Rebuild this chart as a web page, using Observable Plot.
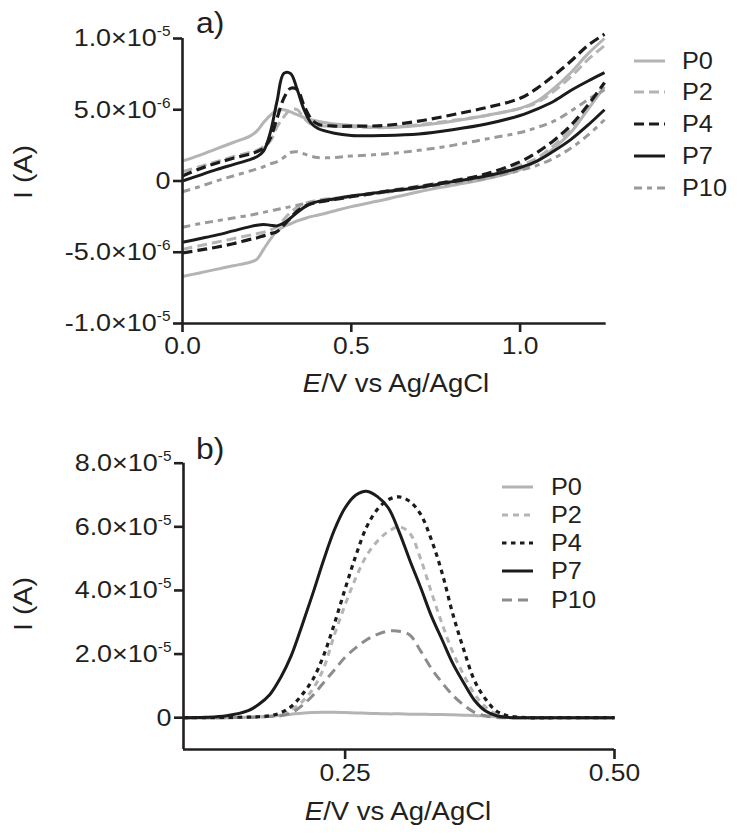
<!DOCTYPE html>
<html><head><meta charset="utf-8">
<script src="https://cdn.jsdelivr.net/npm/d3@7"></script>
<script src="https://cdn.jsdelivr.net/npm/@observablehq/plot@0.6"></script>
<style>
body{margin:0;background:#fff;}
#root{position:relative;width:737px;height:835px;font-family:"Liberation Sans",Arial,sans-serif;color:#231f20;overflow:hidden;}
#root > svg{position:absolute;left:0;}
</style></head><body><div id="root"></div>
<script>
// ---------- Panel a: cyclic voltammograms (current in 1e-6 A) ----------
const cvE = [0,0.05,0.1,0.15,0.2,0.22,0.24,0.26,0.28,0.30,0.32,0.34,0.36,0.38,0.40,0.45,0.5,0.6,0.7,0.8,0.9,1.0,1.05,1.1,1.15,1.2,1.25];
const cvP0Fwd  = [1.4,1.8,2.25,2.7,3.15,3.5,4.1,4.6,4.95,5.0,4.85,4.65,4.45,4.3,4.2,4.0,3.9,3.75,3.9,4.2,4.6,5.1,5.6,6.5,7.6,8.9,10.0];
const cvP2Fwd  = [0.65,1.0,1.35,1.7,2.0,2.15,2.4,2.8,3.8,4.5,5.0,5.0,4.4,4.0,3.9,3.85,3.8,3.75,3.95,4.25,4.6,5.1,5.5,6.3,7.3,8.5,9.5];
const cvP4Fwd  = [0.35,0.85,1.25,1.6,1.9,2.05,2.3,3.0,4.4,5.8,6.5,6.4,5.3,4.4,4.0,3.85,3.85,3.9,4.2,4.65,5.15,5.8,6.5,7.4,8.4,9.5,10.3];
const cvP7Fwd  = [0.0,0.4,0.8,1.15,1.5,1.7,2.1,3.4,5.6,7.55,7.55,6.4,5.0,4.1,3.7,3.35,3.2,3.2,3.3,3.6,4.0,4.6,5.05,5.6,6.35,7.0,7.6];
const cvP10Fwd = [-0.75,-0.4,0.0,0.35,0.7,0.85,1.0,1.2,1.35,1.65,2.0,2.05,1.9,1.75,1.65,1.65,1.75,1.9,2.15,2.5,2.95,3.4,3.75,4.2,4.9,5.7,6.4];
const cvP0Rev  = [-6.7,-6.45,-6.2,-5.95,-5.7,-5.5,-4.8,-4.1,-3.5,-3.2,-3.0,-2.8,-2.65,-2.5,-2.4,-2.1,-1.8,-1.3,-0.75,-0.3,0.15,0.8,1.4,2.3,3.4,5.0,6.6];
const cvP2Rev  = [-4.8,-4.55,-4.3,-4.05,-3.8,-3.7,-3.6,-3.45,-3.2,-2.7,-2.2,-1.85,-1.6,-1.45,-1.35,-1.2,-1.05,-0.7,-0.35,0.0,0.4,1.1,1.6,2.5,3.6,5.1,6.9];
const cvP4Rev  = [-5.05,-4.85,-4.65,-4.4,-4.1,-4.0,-3.85,-3.7,-3.55,-3.1,-2.6,-2.1,-1.8,-1.6,-1.5,-1.3,-1.1,-0.75,-0.4,0.0,0.5,1.35,2.0,2.85,3.9,5.3,6.9];
const cvP7Rev  = [-4.3,-4.05,-3.8,-3.5,-3.2,-3.1,-3.05,-3.1,-3.15,-2.95,-2.6,-2.2,-1.85,-1.6,-1.45,-1.25,-1.05,-0.75,-0.45,-0.05,0.35,0.95,1.4,2.1,2.9,3.9,5.0];
const cvP10Rev = [-3.25,-3.0,-2.8,-2.6,-2.4,-2.3,-2.2,-2.1,-2.0,-1.9,-1.8,-1.7,-1.6,-1.5,-1.45,-1.3,-1.1,-0.8,-0.5,-0.15,0.2,0.75,1.1,1.6,2.3,3.2,4.3];

// ---------- Panel b: differential pulse peaks (current in 1e-5 A) ----------
const dpE   = [0.10,0.12,0.14,0.16,0.17,0.18,0.19,0.20,0.21,0.22,0.23,0.24,0.25,0.26,0.27,0.28,0.29,0.30,0.31,0.32,0.33,0.34,0.35,0.36,0.37,0.38,0.39,0.40,0.42,0.45,0.50];
const dpP0  = [0,0,0,0.01,0.03,0.05,0.08,0.11,0.14,0.16,0.17,0.17,0.16,0.15,0.14,0.13,0.12,0.12,0.11,0.11,0.10,0.10,0.09,0.08,0.07,0.05,0.03,0.01,0,0,0];
const dpP2  = [0,0,0,0.01,0.02,0.04,0.09,0.25,0.5,0.9,1.55,2.6,3.55,4.4,5.1,5.55,5.85,6.0,5.8,5.0,3.95,2.95,2.05,1.35,0.75,0.35,0.12,0.03,0,0,0];
const dpP4  = [0,0,0.01,0.02,0.03,0.06,0.15,0.35,0.72,1.2,1.95,2.95,4.05,5.1,6.0,6.55,6.85,6.94,6.8,6.4,5.6,4.55,3.25,2.15,1.17,0.6,0.22,0.07,0,0,0];
const dpP7  = [0,0.01,0.06,0.22,0.42,0.72,1.25,1.95,2.9,3.9,4.95,5.9,6.6,7.0,7.12,6.95,6.6,5.85,4.95,4.1,3.2,2.45,1.7,1.1,0.55,0.22,0.07,0.01,0,0,0];
const dpP10 = [0,0,0,0.01,0.02,0.04,0.06,0.15,0.38,0.7,1.1,1.5,1.9,2.2,2.45,2.62,2.72,2.72,2.6,2.1,1.55,1.1,0.7,0.4,0.17,0.06,0.01,0,0,0,0];

const seriesNames = ["P0","P2","P4","P7","P10"];
const aTicksX = [0, 0.5, 1.0];
const aTicksY = [-1e-5, -5e-6, 0, 5e-6, 1e-5];
const bTicksX = [0.25, 0.50];
const bTicksY = [0, 2e-5, 4e-5, 6e-5, 8e-5];
const xTitleMain = "E";
const xTitleRest = "/V vs Ag/AgCl";
const yTitle = "I (A)";

// build tables
const cvRows = [];
[["P0",cvP0Fwd,cvP0Rev],["P2",cvP2Fwd,cvP2Rev],["P4",cvP4Fwd,cvP4Rev],["P7",cvP7Fwd,cvP7Rev],["P10",cvP10Fwd,cvP10Rev]]
  .forEach(([s,f,r]) => {
    cvE.forEach((e,i) => cvRows.push({s, b:s+"f", E:e, I:f[i]*1e-6}));
    cvE.forEach((e,i) => cvRows.push({s, b:s+"r", E:e, I:r[i]*1e-6}));
  });
const dpRows = [];
[["P0",dpP0],["P2",dpP2],["P4",dpP4],["P7",dpP7],["P10",dpP10]]
  .forEach(([s,v]) => dpE.forEach((e,i) => dpRows.push({s, E:e, I:v[i]*1e-5})));

const INK = "#231f20";
const BLK = "#1b1b1b";
const LG = "#b4b4b4";
const MG = "#9a9a9a";
const styleA = {
  P0:{stroke:LG, dash:null, w:3},
  P2:{stroke:LG, dash:"10,5", w:3},
  P4:{stroke:BLK, dash:"10,5", w:3.2},
  P7:{stroke:BLK, dash:null, w:3},
  P10:{stroke:MG, dash:"8,5,5,5", w:3}
};
const styleB = {
  P0:{stroke:LG, dash:null, w:3},
  P2:{stroke:LG, dash:"6,5", w:3},
  P4:{stroke:BLK, dash:"4.5,4.5", w:3.2},
  P7:{stroke:BLK, dash:null, w:3},
  P10:{stroke:"#8c8c8c", dash:"10,6", w:3}
};
const drawOrderA = ["P0","P2","P10","P4","P7"];
const drawOrderB = ["P0","P2","P10","P7","P4"];

function sci(v){
  if (v === 0) return "0";
  const e = Math.floor(Math.log10(Math.abs(v)) + 1e-9);
  const m = v / Math.pow(10, e);
  return m.toFixed(1) + "×10^" + e;
}

function lineMarks(rows, styles, order, z){
  return order.map(s => Plot.line(rows.filter(d => d.s === s), {
    x:"E", y:"I", z: z, stroke: styles[s].stroke, strokeWidth: styles[s].w,
    strokeDasharray: styles[s].dash || undefined, curve:"catmull-rom",
    strokeLinecap:"butt", strokeLinejoin:"round"
  }));
}

const FONT = "'Liberation Sans', Arial, sans-serif";
const SX = 1.1; // horizontal stretch of the reference lettering

const plotA = Plot.plot({
  width:737, height:410, marginLeft:182, marginRight:133, marginTop:38, marginBottom:87,
  style:{fontFamily:FONT, fontSize:"24px", color:INK, background:"transparent", overflow:"visible"},
  x:{domain:[0,1.25]},
  y:{domain:[-1e-5,1e-5]},
  marks:[
    ...lineMarks(cvRows, styleA, drawOrderA, "b"),
    Plot.ruleX([0], {y1:-1e-5, y2:1e-5, stroke:INK, strokeWidth:2.6}),
    Plot.ruleY([-1e-5], {x1:0, x2:1.255, stroke:INK, strokeWidth:2.6}),
    Plot.axisX({ticks:aTicksX, tickFormat:d3.format(".1f"), tickSize:9, tickPadding:4, strokeWidth:2.6, stroke:INK, label:null}),
    Plot.axisY({ticks:aTicksY, tickFormat:sci, tickSize:9, tickPadding:3, strokeWidth:2.6, stroke:INK, label:null})
  ]
});

const plotB = Plot.plot({
  width:737, height:415, marginLeft:183, marginRight:123, marginTop:42.7, marginBottom:86,
  style:{fontFamily:FONT, fontSize:"24px", color:INK, background:"transparent", overflow:"visible"},
  x:{domain:[0.1,0.5]},
  y:{domain:[-1e-5,8e-5]},
  marks:[
    ...lineMarks(dpRows, styleB, drawOrderB, null),
    Plot.ruleX([0.1], {y1:-1e-5, y2:8e-5, stroke:INK, strokeWidth:2.6}),
    Plot.ruleY([-1e-5], {x1:0.1, x2:0.5, stroke:INK, strokeWidth:2.6}),
    Plot.axisX({ticks:bTicksX, tickFormat:d3.format(".2f"), tickSize:10, tickPadding:4, strokeWidth:2.6, stroke:INK, label:null}),
    Plot.axisY({ticks:bTicksY, tickFormat:sci, tickSize:9, tickPadding:3, strokeWidth:2.6, stroke:INK, label:null})
  ]
});

function stretch(el, s){
  const T = el.getAttribute("transform") || "";
  el.setAttribute("transform", `${T} scale(${s},1)`);
}

function fixTicks(svg){
  d3.select(svg).selectAll('g[aria-label="x-axis tick label"] text').attr("font-size", 24)
    .each(function(){ stretch(this, SX); });
  d3.select(svg).selectAll('g[aria-label="y-axis tick label"] text').each(function(){
    const t = this.textContent;
    const parts = t.split("^");
    const sel = d3.select(this).attr("font-size", 24.5);
    if (parts.length >= 2) {
      sel.text(null);
      sel.append("tspan").text(parts[0]);
      sel.append("tspan").attr("font-size", 14).attr("dy", -10).text(parts[1]);
    }
    stretch(this, SX);
  });
}
fixTicks(plotA); fixTicks(plotB);

const root = document.getElementById("root");
plotA.style.top = "0px";
plotB.style.top = "420px";
root.appendChild(plotA);
root.appendChild(plotB);

// overlay: panel letters, axis titles, legends
const ov = d3.select(root).append("svg")
  .attr("width",737).attr("height",835).style("top","0px")
  .style("font-family", FONT).style("fill", INK);

function txt(x, y, size, str, anchor){
  return ov.append("text").attr("transform", `translate(${x},${y}) scale(${SX},1)`)
    .attr("font-size", size).attr("text-anchor", anchor || "start").text(str);
}
txt(196, 33, 29, "a)");
txt(196, 459, 29, "b)");

function yTitleAt(x, y){
  ov.append("text").attr("transform",`translate(${x},${y}) rotate(-90) scale(${SX},1)`)
    .attr("text-anchor","middle").attr("font-size",26).text(yTitle);
}
yTitleAt(32, 172);
yTitleAt(32, 604);

function xTitleAt(x, y){
  const t = ov.append("text").attr("transform", `translate(${x},${y}) scale(${SX},1)`)
    .attr("text-anchor","middle").attr("font-size",25);
  t.append("tspan").attr("font-style","italic").text(xTitleMain);
  t.append("tspan").text(xTitleRest);
}
xTitleAt(396, 392);
xTitleAt(398, 820);

function legend(items, styles, x1, x2, tx, ys, fs){
  items.forEach((s,i) => {
    const st = styles[s];
    ov.append("line").attr("x1",x1).attr("x2",x2).attr("y1",ys[i]).attr("y2",ys[i])
      .attr("stroke",st.stroke).attr("stroke-width",st.w)
      .attr("stroke-dasharray", st.dash || null);
    txt(tx, ys[i], fs, s).attr("dy","0.36em");
  });
}
legend(seriesNames, styleA, 634, 665, 682, [61,92,124,156,188], 23);
legend(seriesNames, styleB, 502, 533, 551, [487,515,543,571,600], 23);
</script></body></html>
